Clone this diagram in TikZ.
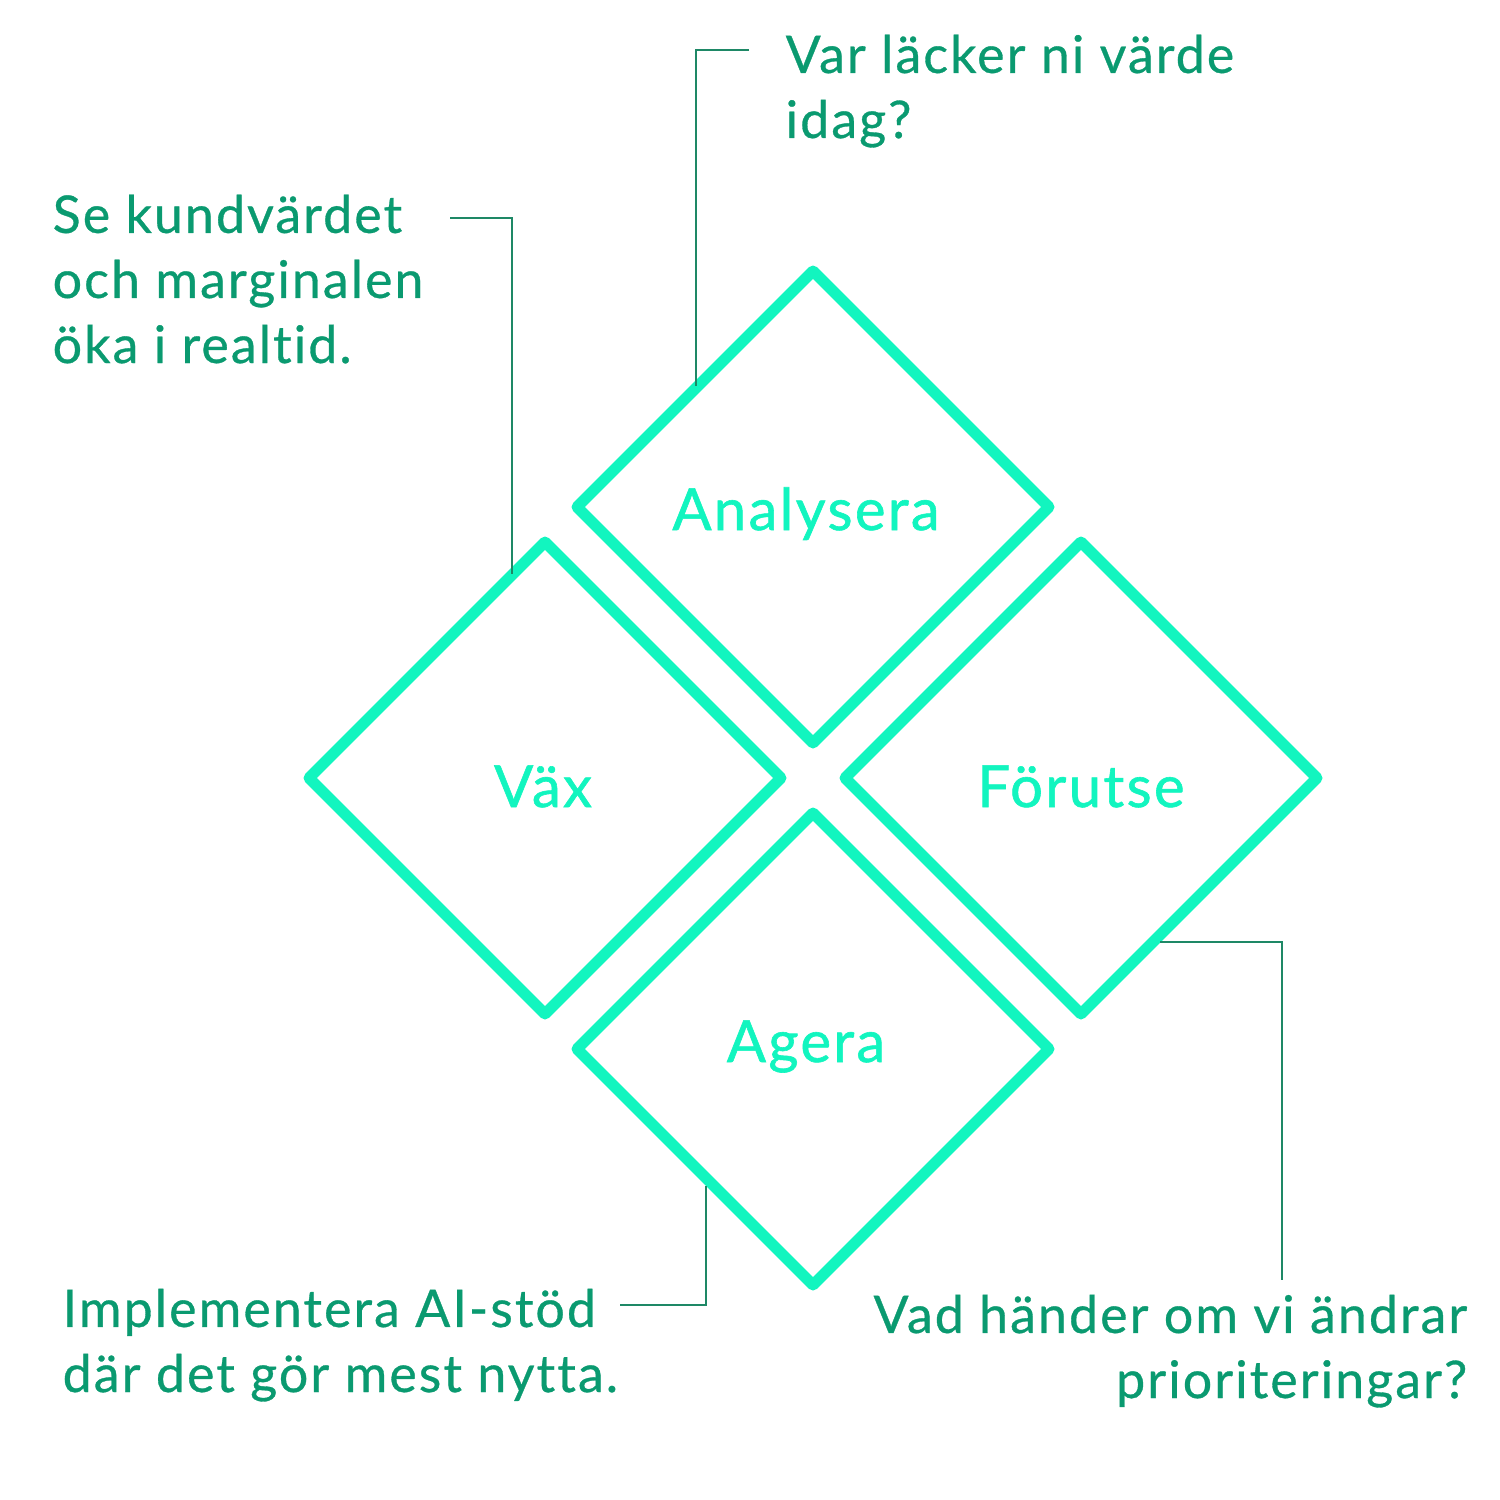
\documentclass[tikz,border=0pt]{standalone}
\usepackage{fontspec}
\setmainfont[LetterSpace=4,Ligatures=NoCommon]{Lato}
\newfontfamily\notefont[LetterSpace=4,FakeBold=0.6,Ligatures=NoCommon]{Lato}
\newfontfamily\innerfont[LetterSpace=4,FakeBold=1.0,Ligatures=NoCommon]{Lato}
\definecolor{mint}{HTML}{12F5BF}
\definecolor{teal}{HTML}{0A9A70}
\definecolor{leader}{HTML}{1E8866}
\begin{document}
\begin{tikzpicture}[x=0.01cm,y=-0.01cm,
  diam/.style={draw=mint,line width=11*0.01cm,line join=round},
  inner/.style={text=mint,font=\innerfont\fontsize{16.5pt}{19pt}\selectfont},
  note/.style={text=teal,font=\notefont\fontsize{14.75pt}{18.5pt}\selectfont,inner sep=0pt},
  lead/.style={draw=leader,line width=2.2*0.01cm}]
\useasboundingbox (0,0) rectangle (1500,1500);
\fill[white] (0,0) rectangle (1500,1500);
% diamonds
\draw[diam] (813,271) -- (1049,507) -- (813,743) -- (577,507) -- cycle;
\draw[diam] (545,542) -- (781,778) -- (545,1014) -- (309,778) -- cycle;
\draw[diam] (1081,542) -- (1317,778) -- (1081,1014) -- (845,778) -- cycle;
\draw[diam] (813,813) -- (1049,1049) -- (813,1285) -- (577,1049) -- cycle;
% inner labels
\node[inner,anchor=base] (an) at (806,530) {Analysera};
\node[inner,anchor=base] (vx) at (543,807) {Väx};
\node[inner,anchor=base] (fo) at (1081,807) {Förutse};
\node[inner,anchor=base] (ag) at (806,1062) {Agera};
% notes (anchor at baseline of last line)
\node[note,anchor=base west,align=left] (n1) at (785,138) {Var läcker ni värde\\idag?};
\node[note,anchor=base west,align=left] (n2) at (52,363) {Se kundvärdet\\och marginalen\\öka i realtid.};
\node[note,anchor=base west,align=left] (n3) at (62,1392) {Implementera AI-stöd\\där det gör mest nytta.};
\node[note,anchor=base east,align=right] (n4) at (1468,1398) {Vad händer om vi ändrar\\prioriteringar?};
% leaders
\coordinate (c1a) at (749,50); \coordinate (c1b) at (696,50); \coordinate (c1c) at (696,386);
\draw[lead] (c1a) -- (c1b) -- (c1c);
\coordinate (c2a) at (450,218); \coordinate (c2b) at (512,218); \coordinate (c2c) at (512,574);
\draw[lead] (c2a) -- (c2b) -- (c2c);
\coordinate (c3a) at (1160,942); \coordinate (c3b) at (1282,942); \coordinate (c3c) at (1282,1280);
\draw[lead] (c3a) -- (c3b) -- (c3c);
\coordinate (c4a) at (706,1186); \coordinate (c4b) at (706,1305); \coordinate (c4c) at (620,1305);
\draw[lead] (c4a) -- (c4b) -- (c4c);
\end{tikzpicture}
\end{document}
